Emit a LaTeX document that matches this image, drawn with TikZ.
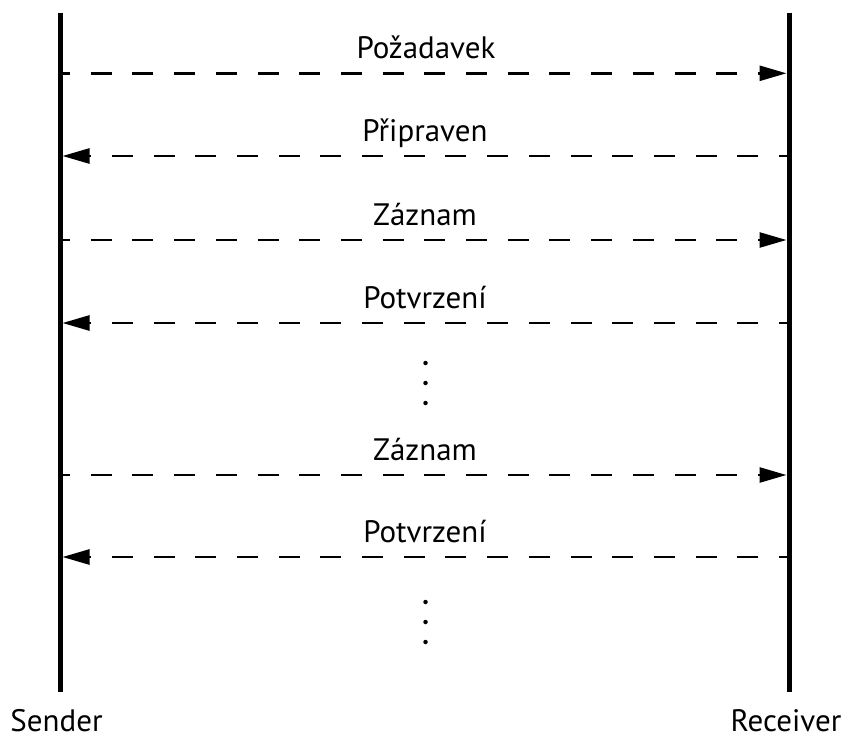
\documentclass[tikz,border=0pt]{standalone}
\usepackage{fontspec}
\setmainfont{PT Sans}
\usetikzlibrary{arrows.meta}
\begin{document}
\begin{tikzpicture}[x=1pt,y=-1pt,
  lifeline/.style={line width=5pt},
  msg/.style={line width=2.6pt,dash pattern=on 21pt off 20.7pt,dash phase=11pt,
    -{Triangle[length=27pt,width=15pt]},shorten >=2.5pt},
  lbl/.style={anchor=base,inner sep=0pt,font=\fontsize{31}{36}\selectfont},
  dotm/.style={fill=black,circle,inner sep=0pt,minimum size=4.5pt}]
\useasboundingbox (0,0) rectangle (845,733);
% lifelines
\coordinate (stop) at (60,12.7);
\coordinate (sbot) at (60,691.7);
\coordinate (rtop) at (789,12.7);
\coordinate (rbot) at (789,691.7);
\draw[lifeline] (stop) -- (sbot);
\draw[lifeline] (rtop) -- (rbot);
\node[lbl] (sender) at (56.5,731) {Sender};
\node[lbl] (receiver) at (786,731) {Receiver};
% message anchors
\foreach \i/\y in {1/73.3,2/156,3/240,4/323,5/475,6/557}{
  \coordinate (s\i) at (60,\y);
  \coordinate (r\i) at (789,\y);
}
\draw[msg] (s1) -- (r1);
\draw[msg] (r2) -- (s2);
\draw[msg] (s3) -- (r3);
\draw[msg] (r4) -- (s4);
\draw[msg] (s5) -- (r5);
\draw[msg] (r6) -- (s6);
\node[lbl] (l1) at (426,58.5) {Požadavek};
\node[lbl] (l2) at (425,141.3) {Připraven};
\node[lbl] (l3) at (425,225.2) {Záznam};
\node[lbl] (l4) at (425,308.2) {Potvrzení};
\node[lbl] (l5) at (425,460.2) {Záznam};
\node[lbl] (l6) at (425,542.2) {Potvrzení};
% ellipses
\node[dotm] (d1) at (425.5,363) {};
\node[dotm] (d2) at (425.5,383) {};
\node[dotm] (d3) at (425.5,403) {};
\node[dotm] (d4) at (425.5,602) {};
\node[dotm] (d5) at (425.5,622) {};
\node[dotm] (d6) at (425.5,642) {};
\end{tikzpicture}
\end{document}
